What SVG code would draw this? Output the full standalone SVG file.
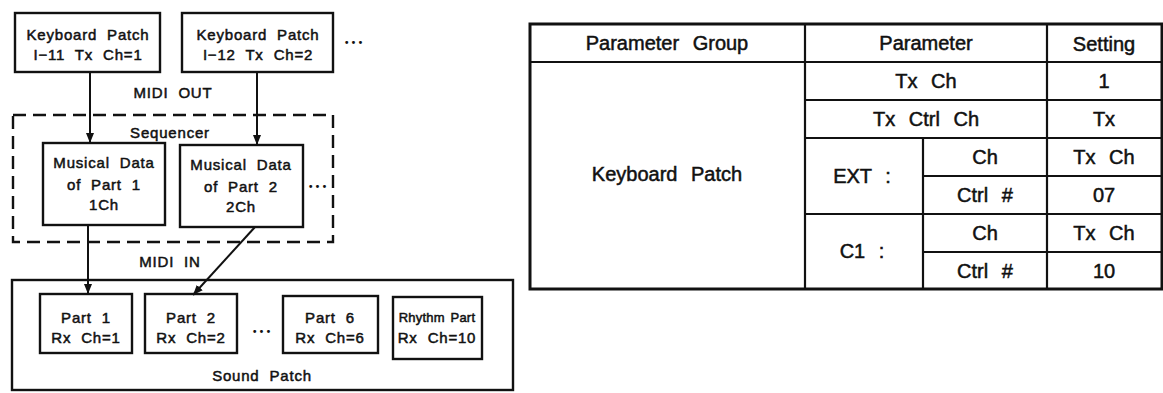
<svg xmlns="http://www.w3.org/2000/svg" width="1163" height="393" viewBox="0 0 1163 393">
<defs>
<style>
.box{fill:#fff;stroke:#111;stroke-width:2.4}
.dash{fill:none;stroke:#111;stroke-width:2.4;stroke-dasharray:13 7}
.ln{stroke:#111;stroke-width:2;fill:none}
.t{font-family:"Liberation Sans",Arial,sans-serif;font-size:15px;fill:#111;text-anchor:middle;letter-spacing:0.8px;word-spacing:5px;stroke:#111;stroke-width:0.5}
.s{font-size:13px;letter-spacing:0.2px;word-spacing:2px}
.tb{font-family:"Liberation Sans",Arial,sans-serif;font-size:20px;fill:#111;text-anchor:middle;word-spacing:8px;stroke:#111;stroke-width:0.5}
.dots{font-family:"DejaVu Sans",sans-serif;font-size:10px;fill:#111;text-anchor:middle;letter-spacing:1px}
.tl{stroke:#111;stroke-width:2.2;fill:none}
.to{stroke:#111;stroke-width:3;fill:none}
</style>
<marker id="ah" viewBox="0 0 10 10" refX="10" refY="5" markerWidth="10" markerHeight="10" markerUnits="userSpaceOnUse" orient="auto">
<path d="M0,1 L10,5 L0,9 Z" fill="#111"/>
</marker>
</defs>
<rect width="1163" height="393" fill="#fff"/>

<g id="sequencer">
<rect class="dash" x="13" y="115" width="320" height="127"/>
<text class="t" x="170" y="138">Sequencer</text>
</g>
<g id="sound-patch">
<rect class="box" x="12" y="280" width="501" height="110"/>
<text class="t" x="262" y="381">Sound Patch</text>
</g>

<g id="kb1">
<rect class="box" x="15" y="13" width="145" height="59"/>
<text class="t" x="88" y="40">Keyboard Patch</text>
<text class="t" x="88" y="60">I−11 Tx Ch=1</text>
</g>
<g id="kb2">
<rect class="box" x="182" y="13" width="151" height="59"/>
<text class="t" x="258" y="40">Keyboard Patch</text>
<text class="t" x="258" y="60">I−12 Tx Ch=2</text>
</g>
<text class="dots" x="354" y="46">•••</text>

<text class="t" x="173" y="98">MIDI OUT</text>

<g id="md1">
<rect class="box" x="43" y="143" width="122" height="82"/>
<text class="t" x="104" y="168">Musical Data</text>
<text class="t" x="104" y="190">of Part 1</text>
<text class="t" x="104" y="210">1Ch</text>
</g>
<g id="md2">
<rect class="box" x="180" y="145" width="123" height="82"/>
<text class="t" x="241" y="170">Musical Data</text>
<text class="t" x="241" y="192">of Part 2</text>
<text class="t" x="241" y="212">2Ch</text>
</g>
<text class="dots" x="318" y="190">•••</text>

<text class="t" x="170" y="267">MIDI IN</text>

<g id="part1">
<rect class="box" x="40" y="294" width="92" height="59"/>
<text class="t" x="86" y="323">Part 1</text>
<text class="t" x="86" y="343">Rx Ch=1</text>
</g>
<g id="part2">
<rect class="box" x="145" y="294" width="92" height="59"/>
<text class="t" x="191" y="323">Part 2</text>
<text class="t" x="191" y="343">Rx Ch=2</text>
</g>
<text class="dots" x="262" y="335">•••</text>
<g id="part6">
<rect class="box" x="283" y="296" width="95" height="57"/>
<text class="t" x="330" y="323">Part 6</text>
<text class="t" x="330" y="343">Rx Ch=6</text>
</g>
<g id="rhythm">
<rect class="box" x="393" y="297" width="89" height="62"/>
<text class="t s" x="437" y="322">Rhythm Part</text>
<text class="t" x="437" y="343">Rx Ch=10</text>
</g>

<g id="connectors">
<line class="ln" x1="90" y1="72" x2="90" y2="143" marker-end="url(#ah)"/>
<line class="ln" x1="257" y1="72" x2="257" y2="145" marker-end="url(#ah)"/>
<line class="ln" x1="88" y1="225" x2="88" y2="294" marker-end="url(#ah)"/>
<line class="ln" x1="255" y1="227" x2="193" y2="295" marker-end="url(#ah)"/>
</g>

<g id="table">
<rect class="to" x="530" y="24" width="632" height="265" fill="#fff"/>
<line class="tl" x1="530" y1="62" x2="1162" y2="62"/>
<line class="tl" x1="805" y1="24" x2="805" y2="289"/>
<line class="tl" x1="1047" y1="24" x2="1047" y2="289"/>
<line class="tl" x1="805" y1="100" x2="1162" y2="100"/>
<line class="tl" x1="805" y1="138" x2="1162" y2="138"/>
<line class="tl" x1="923" y1="176" x2="1162" y2="176"/>
<line class="tl" x1="805" y1="214" x2="1162" y2="214"/>
<line class="tl" x1="923" y1="252" x2="1162" y2="252"/>
<line class="tl" x1="923" y1="138" x2="923" y2="289"/>
<text class="tb" x="667" y="50">Parameter Group</text>
<text class="tb" x="926" y="50">Parameter</text>
<text class="tb" x="1104" y="51">Setting</text>
<text class="tb" x="667" y="181">Keyboard Patch</text>
<text class="tb" x="926" y="88">Tx Ch</text>
<text class="tb" x="1104" y="88">1</text>
<text class="tb" x="926" y="126">Tx Ctrl Ch</text>
<text class="tb" x="1104" y="126">Tx</text>
<text class="tb" x="862" y="183">EXT :</text>
<text class="tb" x="985" y="164">Ch</text>
<text class="tb" x="1104" y="164">Tx Ch</text>
<text class="tb" x="985" y="202">Ctrl #</text>
<text class="tb" x="1104" y="202">07</text>
<text class="tb" x="862" y="258">C1 :</text>
<text class="tb" x="985" y="240">Ch</text>
<text class="tb" x="1104" y="240">Tx Ch</text>
<text class="tb" x="985" y="278">Ctrl #</text>
<text class="tb" x="1104" y="278">10</text>
</g>
</svg>
